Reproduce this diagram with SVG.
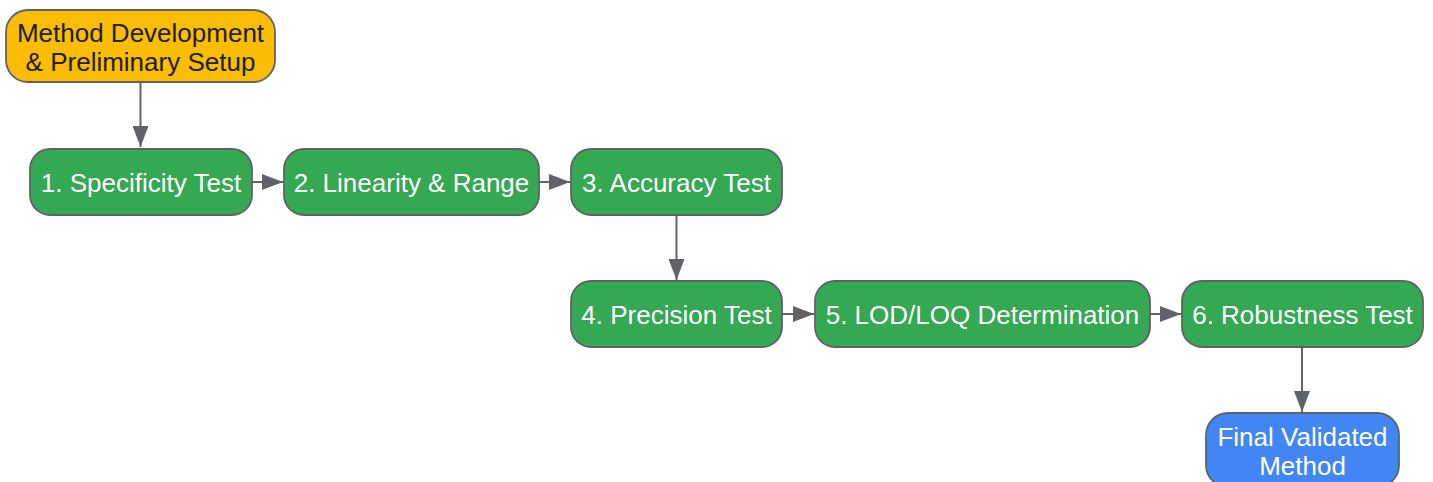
<svg xmlns="http://www.w3.org/2000/svg" width="1433" height="482" viewBox="0 0 1433 482">
<defs>
<style>
.n{stroke:#5f6368;stroke-width:1.8}
.g{fill:#34a853}
.t{font-family:"Liberation Sans",Arial,sans-serif;font-size:26px;text-anchor:middle}
.w{fill:#ffffff}
.d{fill:#202124}
.c{stroke:#5f6368;stroke-width:2;fill:none;marker-end:url(#ah)}
</style>
<marker id="ah" viewBox="0 0 21 16" refX="21" refY="8" markerWidth="21" markerHeight="16" markerUnits="userSpaceOnUse" orient="auto">
<path d="M0,0 L21,8 L0,16 Z" fill="#5f6368"/>
</marker>
</defs>
<rect width="1433" height="482" fill="#ffffff"/>
<g id="connectors">
<line class="c" x1="140.5" y1="82" x2="140.5" y2="147"/>
<line class="c" x1="252" y1="182" x2="283" y2="182"/>
<line class="c" x1="539" y1="182" x2="570" y2="182"/>
<line class="c" x1="676.5" y1="215" x2="676.5" y2="280"/>
<line class="c" x1="782" y1="314" x2="814" y2="314"/>
<line class="c" x1="1150" y1="314" x2="1181" y2="314"/>
<line class="c" x1="1302" y1="348" x2="1302" y2="412"/>
</g>
<g id="start">
<rect class="n" x="6" y="10" width="269" height="72" rx="22" fill="#fbbc04"/>
<text class="t d" x="140.5" y="42">Method Development</text>
<text class="t d" x="140.5" y="71">&amp; Preliminary Setup</text>
</g>
<g id="step1">
<rect class="n g" x="30" y="149" width="222" height="66" rx="20"/>
<text class="t w" x="141" y="192">1. Specificity Test</text>
</g>
<g id="step2">
<rect class="n g" x="284" y="149" width="255" height="66" rx="20"/>
<text class="t w" x="411.5" y="192">2. Linearity &amp; Range</text>
</g>
<g id="step3">
<rect class="n g" x="571" y="149" width="211" height="66" rx="20"/>
<text class="t w" x="676.5" y="192">3. Accuracy Test</text>
</g>
<g id="step4">
<rect class="n g" x="571" y="281" width="211" height="66" rx="20"/>
<text class="t w" x="676.5" y="324">4. Precision Test</text>
</g>
<g id="step5">
<rect class="n g" x="815" y="281" width="335" height="66" rx="20"/>
<text class="t w" x="982.5" y="324">5. LOD/LOQ Determination</text>
</g>
<g id="step6">
<rect class="n g" x="1182" y="281" width="241" height="66" rx="20"/>
<text class="t w" x="1302.5" y="324">6. Robustness Test</text>
</g>
<g id="final">
<rect class="n" x="1206" y="413" width="193" height="74" rx="22" fill="#4285f4"/>
<text class="t w" x="1302.5" y="446">Final Validated</text>
<text class="t w" x="1302.5" y="475">Method</text>
</g>
</svg>
